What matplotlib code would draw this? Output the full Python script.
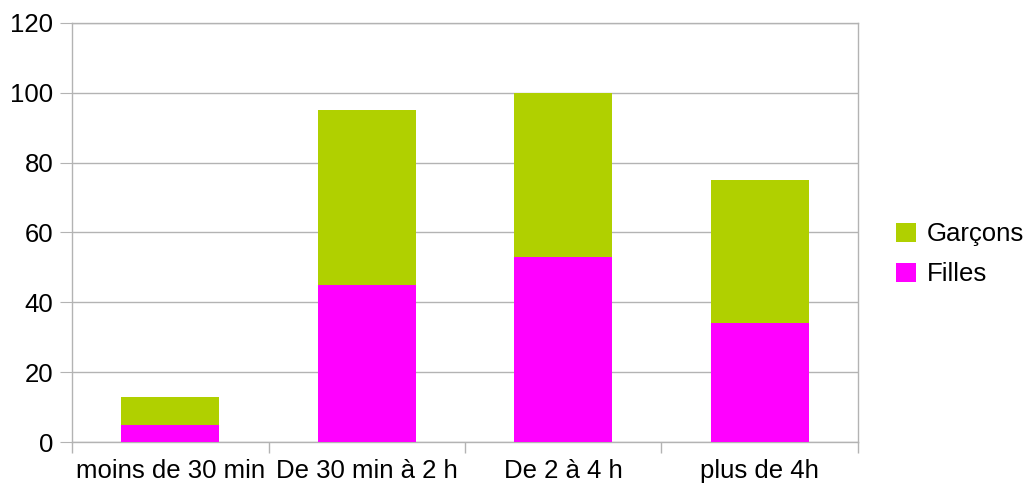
import matplotlib
matplotlib.use("Agg")
import matplotlib.pyplot as plt
import numpy as np

categories = ["moins de 30 min", "De 30 min à 2 h", "De 2 à 4 h", "plus de 4h"]
filles = [5, 45, 53, 34]
garcons = [8, 50, 47, 41]
yticks = [0, 20, 40, 60, 80, 100, 120]

plt.rcParams['font.family'] = ['Liberation Sans', 'DejaVu Sans']
fig = plt.figure(figsize=(10.23, 4.91), dpi=100)
ax = fig.add_axes([0.0704, 0.0992, 0.7683, 0.8546])

x = np.arange(len(categories)) + 0.5
ax.bar(x, filles, width=0.5, color="#ff00ff", label="Filles", zorder=3)
ax.bar(x, garcons, width=0.5, bottom=filles, color="#b0d000", label="Garçons", zorder=3)

ax.set_xlim(0, 4)
ax.set_ylim(0, 120)
ax.set_yticks(yticks)
ax.set_xticks(x)
ax.set_xticklabels(categories)
ax.set_xticks(np.arange(5), minor=True)
ax.tick_params(axis='x', which='major', length=0, labelsize=18.5, pad=12)
ax.tick_params(axis='x', which='minor', length=8, color="#b3b3b3", width=1)
ax.tick_params(axis='y', length=8.5, color="#b3b3b3", labelsize=18.5, pad=5)
ax.grid(axis='y', color="#b3b3b3", linewidth=1, zorder=0)
for s in ax.spines.values():
    s.set_color("#b3b3b3")
    s.set_linewidth(1)

h, l = ax.get_legend_handles_labels()
fig.legend(h[::-1], l[::-1], loc='center left', bbox_to_anchor=(0.876, 0.482),
           frameon=False, fontsize=18.5, handlelength=0.78, handleheight=0.78,
           handletextpad=0.4, labelspacing=0.62, borderpad=0, borderaxespad=0)

fig.savefig("out.png", dpi=100)
